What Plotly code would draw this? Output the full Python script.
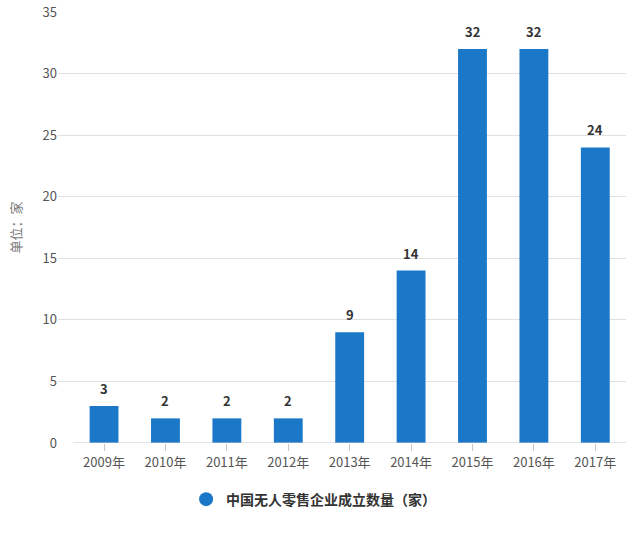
import plotly.graph_objects as go

categories = ["2009年", "2010年", "2011年", "2012年", "2013年", "2014年", "2015年", "2016年", "2017年"]
values = [3, 2, 2, 2, 9, 14, 32, 32, 24]
series_name = "中国无人零售企业成立数量（家）"
y_title = "单位：家"

color = "#1b78c8"
font_family = "Microsoft YaHei, Noto Sans CJK SC, sans-serif"

xs = list(range(len(categories)))

fig = go.Figure()
fig.add_trace(go.Bar(
    x=xs, y=values,
    marker=dict(color=color, line=dict(width=0)),
    width=0.47,
    showlegend=False,
))
fig.add_trace(go.Scatter(
    x=[None], y=[None], mode="markers", name=series_name,
    marker=dict(symbol="circle", size=14, color=color),
    showlegend=True,
))

for x, v in zip(xs, values):
    fig.add_annotation(x=x, y=v, xref="x", yref="y", text=f"<b>{v}</b>",
                       showarrow=False, yanchor="bottom", yshift=6,
                       font=dict(size=13, color="#333333", family=font_family))

fig.add_shape(type="line", xref="x", yref="y", x0=-0.5, x1=8.5, y0=0, y1=0,
              line=dict(color="#c0c8d8", width=1))

fig.update_layout(
    width=640, height=543,
    margin=dict(l=58, r=14, t=12, b=100),
    plot_bgcolor="white", paper_bgcolor="white",
    font=dict(family=font_family, color="#555555", size=13),
    bargap=0.5,
    xaxis=dict(
        tickmode="array", tickvals=xs, ticktext=categories,
        range=[-0.75, 8.5], showgrid=False, zeroline=False, showline=False,
        ticks="outside", ticklen=7, tickcolor="#c0c8d8",
        tickfont=dict(size=13, color="#555555"), automargin=False,
    ),
    yaxis=dict(
        range=[0, 35], dtick=5, showgrid=True, gridcolor="#e0e0e0", gridwidth=1,
        zeroline=False, showline=False, automargin=False,
        tickfont=dict(size=13, color="#555555"),
        title=dict(text=y_title, font=dict(size=13, color="#777777"), standoff=18),
    ),
    legend=dict(
        orientation="h", xref="container", yref="container",
        x=0.49, xanchor="center", y=0.08, yanchor="middle",
        font=dict(size=14, color="#333333", family=font_family, weight="bold"),
        itemsizing="trace",
    ),
)

fig.write_html("out.html")
